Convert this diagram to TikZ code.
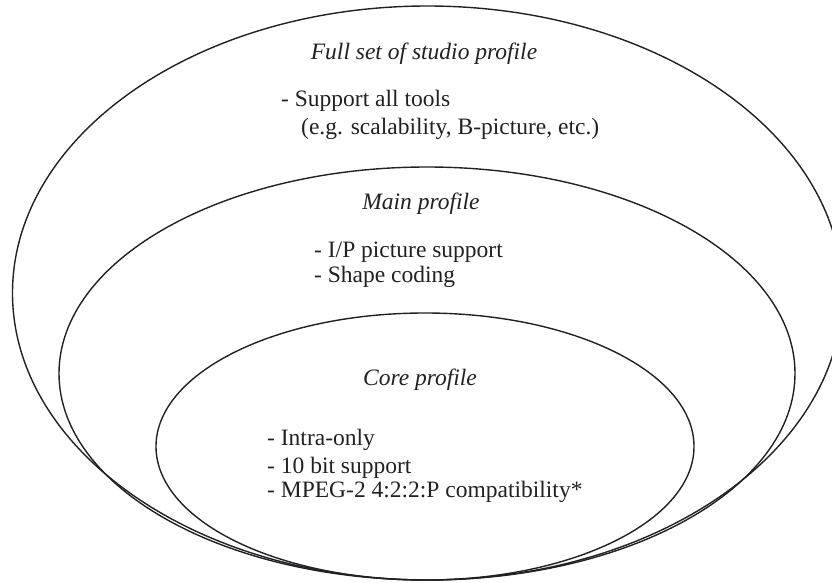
\documentclass[tikz,border=0pt]{standalone}
\usepackage{fontspec}
\setmainfont{Liberation Serif}
\definecolor{ringgray}{rgb}{0.13,0.13,0.14}

\begin{document}
\begin{tikzpicture}[line cap=round,line join=round,x=1pt,y=1pt,
    ring/.style={draw=ringgray,line width=1.4pt},
    head/.style={font=\fontsize{23.5}{27}\itshape,text=ringgray,inner sep=0pt,anchor=base},
    item/.style={font=\fontsize{23.5}{27}\selectfont,text=ringgray,inner sep=0pt,anchor=base west}]
\useasboundingbox (0,0) rectangle (832,582);
\clip (0,0) rectangle (832,582);
% the three profiles, nested
\draw[ring] (427.5,289) ellipse (415pt and 287pt);
\draw[ring] (427,208.5) ellipse (368pt and 206.5pt);
\draw[ring] (425,135.5) ellipse (269pt and 133.5pt);
% full set of studio profile
\node[head] (fullname) at (424,522) {Full set of studio profile};
\node[item] (fullone) at (281,475) {- Support all tools};
\node[item] (fulltwo) at (301,447) {(e.g. scalability, B-picture, etc.)};
% main profile
\node[head] (mainname) at (421,373) {Main profile};
\node[item] (mainone) at (314,325) {- I/P picture support};
\node[item] (maintwo) at (314,300) {- Shape coding};
% core profile
\node[head] (corename) at (420,197) {Core profile};
\node[item] (coreone) at (267,137) {- Intra-only};
\node[item] (coretwo) at (267,109) {- 10 bit support};
\node[item] (corethree) at (267,85) {- MPEG-2 4:2:2:P compatibility*};
\end{tikzpicture}
\end{document}
